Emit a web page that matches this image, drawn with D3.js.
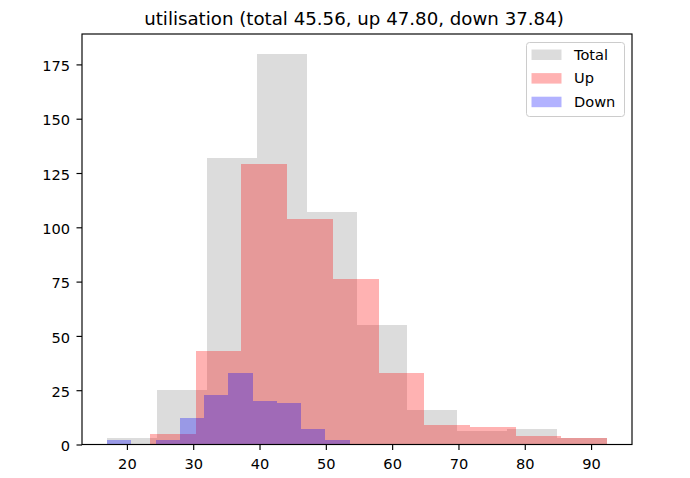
<!DOCTYPE html>
<html>
<head>
<meta charset="utf-8">
<script src="https://cdn.jsdelivr.net/npm/d3@7"></script>
<style>
  html, body { margin: 0; padding: 0; background: #fff; }
  svg { display: block; font-family: "DejaVu Sans", sans-serif; }
</style>
</head>
<body>
<svg id="chart" width="690" height="478"></svg>
<script>
// ---- data ----
const titleText = "utilisation (total 45.56, up 47.80, down 37.84)";
const seriesNames = ["Total", "Up", "Down"];
const totalEdges = [17.0, 24.54, 32.08, 39.62, 47.16, 54.70, 62.24, 69.78, 77.32, 84.86, 92.4];
const totalCounts = [3, 25, 132, 180, 107, 55, 16, 6, 7, 3];
const upEdges = [23.5, 30.39, 37.28, 44.17, 51.06, 57.95, 64.84, 71.73, 78.62, 85.51, 92.4];
const upCounts = [5, 43, 129, 104, 76, 33, 9, 8, 4, 3];
const downEdges = [17.0, 20.66, 24.32, 27.98, 31.64, 35.30, 38.96, 42.62, 46.28, 49.94, 53.6];
const downCounts = [2, 0, 2, 12, 23, 33, 20, 19, 7, 2];
const xTicks = [20, 30, 40, 50, 60, 70, 80, 90];
const yTicks = [0, 25, 50, 75, 100, 125, 150, 175];

(function () {
// ---- layout ----
const mLeft = 82, mRight = 632, mTop = 34, mBottom = 444.5;
const svg = d3.select("#chart");

const allEdges = totalEdges.concat(upEdges, downEdges);
const xMin = d3.min(allEdges), xMax = d3.max(allEdges);
const pad = (xMax - xMin) * 0.05;
const yMax = d3.max(totalCounts.concat(upCounts, downCounts)) * 1.05;

const x = d3.scaleLinear().domain([xMin - pad, xMax + pad]).range([mLeft, mRight]);
const y = d3.scaleLinear().domain([0, yMax]).range([mBottom, mTop]);

const series = [
  { name: seriesNames[0], edges: totalEdges, counts: totalCounts, color: "#8c8c8c" },
  { name: seriesNames[1], edges: upEdges, counts: upCounts, color: "red" },
  { name: seriesNames[2], edges: downEdges, counts: downCounts, color: "blue" }
];

const plot = svg.append("g");
series.forEach(s => {
  const bins = s.counts.map((c, i) => ({ x0: s.edges[i], x1: s.edges[i + 1], c }));
  plot.selectAll(null).data(bins.filter(b => b.c > 0)).enter().append("rect")
    .attr("x", b => x(b.x0))
    .attr("width", b => x(b.x1) - x(b.x0))
    .attr("y", b => y(b.c))
    .attr("height", b => y(0) - y(b.c))
    .attr("fill", s.color)
    .attr("fill-opacity", 0.3)
    .attr("shape-rendering", "crispEdges");
});

// ---- axes ----
const tickFont = 14.6;
const xAxis = svg.append("g").attr("transform", `translate(0,${mBottom})`)
  .call(d3.axisBottom(x).tickValues(xTicks).tickSize(5.5).tickPadding(9).tickFormat(d3.format("d")));
const yAxis = svg.append("g").attr("transform", `translate(${mLeft},0)`)
  .call(d3.axisLeft(y).tickValues(yTicks).tickSize(5.5).tickPadding(6.5).tickFormat(d3.format("d")));
[xAxis, yAxis].forEach(a => {
  a.select(".domain").remove();
  a.selectAll(".tick line").attr("stroke", "#000").attr("stroke-width", 1.15);
  a.selectAll(".tick text").attr("fill", "#000").style("font-size", tickFont + "px")
    .style("font-family", "'DejaVu Sans', sans-serif");
});
yAxis.selectAll(".tick text").attr("dy", "0.43em");

// spines
svg.append("rect")
  .attr("x", mLeft).attr("y", mTop)
  .attr("width", mRight - mLeft).attr("height", mBottom - mTop)
  .attr("fill", "none").attr("stroke", "#000").attr("stroke-width", 1.15);

// title
svg.append("text")
  .attr("x", (mLeft + mRight) / 2 - 3).attr("y", 25)
  .attr("text-anchor", "middle")
  .style("font-size", "18.2px")
  .attr("fill", "#000")
  .text(titleText);

// legend
const lg = svg.append("g");
lg.append("rect")
  .attr("x", 526.5).attr("y", 42.5).attr("width", 98).attr("height", 74)
  .attr("rx", 3).attr("fill", "#fff").attr("fill-opacity", 0.8)
  .attr("stroke", "#cccccc").attr("stroke-width", 1);
series.forEach((s, i) => {
  const cy = 54.5 + i * 23.6;
  lg.append("rect")
    .attr("x", 531.5).attr("y", cy - 5).attr("width", 30).attr("height", 10.5)
    .attr("fill", s.color).attr("fill-opacity", 0.3);
  lg.append("text")
    .attr("x", 574).attr("y", cy).attr("dy", "0.36em")
    .style("font-size", tickFont + "px").attr("fill", "#000")
    .text(s.name);
});
})();
</script>
</body>
</html>
